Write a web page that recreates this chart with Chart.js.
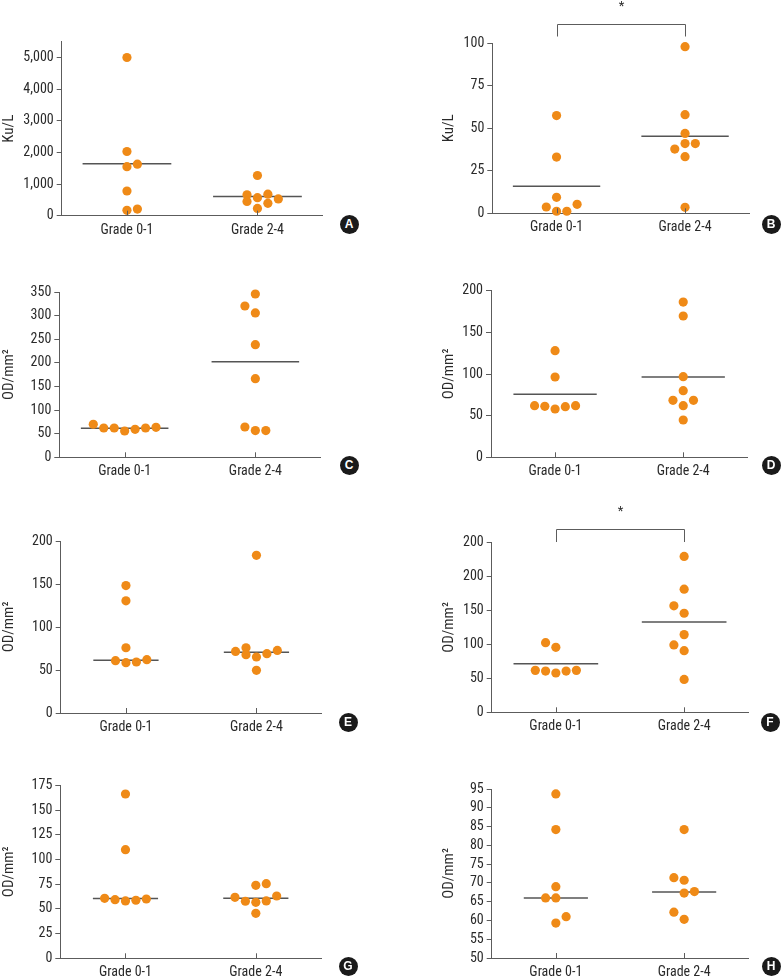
<!DOCTYPE html>
<html lang="en">
<head>
<meta charset="UTF-8">
<title>Grade 0-1 vs Grade 2-4</title>
<script src="https://cdn.jsdelivr.net/npm/chart.js"></script>
<style>
  body { margin: 0; background: #fff; }
  #fig { position: relative; width: 781px; height: 979px; overflow: hidden; }
  #fig canvas { position: absolute; }
  .tag { position: absolute; width: 19px; height: 19px; margin: -9.5px 0 0 -9.5px; border-radius: 50%;
         background: #1a1a1a; color: #fff; font: bold 12px Arial, sans-serif; line-height: 19px; text-align: center; }
</style>
</head>
<body>
<div id="fig"></div>
<script>
// categories
const groups = ['Grade 0-1', 'Grade 2-4'];

// A - Ku/L
const aLow = [5000, 2030, 1550, 1630, 780, 170, 210];
const aLowSlot = [0, 0, 0, 1, 0, 0, 1];
const aHigh = [1270, 660, 680, 570, 450, 530, 390, 230];
const aHighSlot = [0, -1, 1, 0, -1, 2, 1, 0];
const aMid = [1640, 610];
const aTicks = [0, 1000, 2000, 3000, 4000, 5000];
const aTickLabels = ['0', '1,000', '2,000', '3,000', '4,000', '5,000'];

// B - Ku/L
const bLow = [57.5, 33.1, 9.4, 3.7, 5.3, 1.2, 1.2];
const bLowSlot = [0, 0, 0, -1, 2, 0, 1];
const bHigh = [98, 58, 47, 41, 41, 37.8, 33.3, 3.5];
const bHighSlot = [0, 0, 0, 0, 1, -1, 0, 0];
const bMid = [15.9, 45.3];
const bTicks = [0, 25, 50, 75, 100];
const bTickLabels = ['0', '25', '50', '75', '100'];

// C - OD/mm2
const cLow = [70, 62, 62, 55.7, 59.3, 62, 63.5];
const cLowSlot = [-3, -2, -1, 0, 1, 2, 3];
const cHigh = [345.8, 320.4, 305.6, 238.5, 166.5, 64.2, 56.5, 56.5];
const cHighSlot = [0, -1, 0, 0, 0, -1, 0, 1];
const cMid = [61.4, 202.5];
const cTicks = [0, 50, 100, 150, 200, 250, 300, 350];
const cTickLabels = ['0', '50', '100', '150', '200', '250', '300', '350'];

// D - OD/mm2
const dLow = [128, 96.4, 62, 61.2, 58, 60.8, 62];
const dLowSlot = [0, 0, -2, -1, 0, 1, 2];
const dHigh = [186.4, 169.6, 96.8, 80, 68.4, 68.4, 62, 44.8];
const dHighSlot = [0, 0, 0, 0, -1, 1, 0, 0];
const dMid = [75.6, 96.4];
const dTicks = [0, 50, 100, 150, 200];
const dTickLabels = ['0', '50', '100', '150', '200'];

// E - OD/mm2
const eLow = [148.2, 130.4, 75.9, 60.8, 58.5, 59.3, 62];
const eLowSlot = [0, 0, 0, -1, 0, 1, 2];
const eHigh = [183.4, 75.9, 71.6, 72.8, 67.8, 69, 65.1, 49.6];
const eHighSlot = [0, -1, -2, 2, -1, 1, 0, 0];
const eMid = [61.2, 70.5];
const eTicks = [0, 50, 100, 150, 200];
const eTickLabels = ['0', '50', '100', '150', '200'];

// F - OD/mm2 (top label printed as "200" in the source)
const fLow = [102.7, 95.8, 61.8, 60.8, 57.9, 60.8, 61.8];
const fLowSlot = [-1, 0, -2, -1, 0, 1, 2];
const fHigh = [229.8, 181.5, 156.9, 146, 114.5, 99.3, 90.9, 48.5];
const fHighSlot = [0, 0, -1, 0, 0, -1, 0, 0];
const fMid = [71.7, 133.2];
const fTicks = [0, 50, 100, 150, 200, 250];
const fTickLabels = ['0', '50', '100', '150', '200', '200'];

// G - OD/mm2
const gLow = [166.2, 109.9, 60.7, 59.3, 58, 58.7, 60];
const gLowSlot = [0, 0, -2, -1, 0, 1, 2];
const gHigh = [73.8, 75.5, 61.7, 63, 57.7, 56.6, 58, 45.5];
const gHighSlot = [0, 1, -2, 2, -1, 0, 1, 0];
const gMid = [60.4, 60.7];
const gTicks = [0, 25, 50, 75, 100, 125, 150, 175];
const gTickLabels = ['0', '25', '50', '75', '100', '125', '150', '175'];

// H - OD/mm2
const hLow = [93.7, 84.2, 69, 66, 66, 61, 59.3];
const hLowSlot = [0, 0, 0, -1, 0, 1, 0];
const hHigh = [84.2, 71.4, 70.7, 67.3, 67.7, 62.2, 60.3];
const hHighSlot = [0, -1, 0, 0, 1, -1, 0];
const hMid = [66, 67.6];
const hTicks = [50, 55, 60, 65, 70, 75, 80, 85, 90, 95];
const hTickLabels = ['50', '55', '60', '65', '70', '75', '80', '85', '90', '95'];

// look
const DOT = '#ef8a17';
const AXIS = '#5c5c5c';
const TXT = '#2a2a2a';
const FONT = "'Liberation Sans Narrow', 'Roboto Condensed', 'Arial Narrow', Roboto, sans-serif";
const SLOT = 0.08;

// where each panel sits (L/R/T/B = plot area edges)
const panels = [
  { tag: 'A', unit: 'Ku/L', low: aLow, lowSlot: aLowSlot, high: aHigh, highSlot: aHighSlot, mid: aMid, ticks: aTicks, labels: aTickLabels,
    min: 0, max: 5500, half: 0.34, left: 0, top: 0, w: 340, h: 243, L: 61.7, R: 322.7, T: 41.7, B: 215.7, tagX: 349, tagY: 224 },
  { tag: 'B', unit: 'Ku/L', low: bLow, lowSlot: bLowSlot, high: bHigh, highSlot: bHighSlot, mid: bMid, ticks: bTicks, labels: bTickLabels,
    min: 0, max: 100, half: 0.34, left: 440, top: 0, w: 341, h: 243, L: 492.3, R: 749.3, T: 43.3, B: 213.3, tagX: 771, tagY: 224,
    bracket: { top: 111.5, leg: 104 } },
  { tag: 'C', unit: 'OD/mm²', low: cLow, lowSlot: cLowSlot, high: cHigh, highSlot: cHighSlot, mid: cMid, ticks: cTicks, labels: cTickLabels,
    min: 0, max: 350, half: 0.335, left: 0, top: 245, w: 340, h: 243, L: 59.3, R: 320.7, T: 292, B: 457.3, tagX: 349, tagY: 465 },
  { tag: 'D', unit: 'OD/mm²', low: dLow, lowSlot: dLowSlot, high: dHigh, highSlot: dHighSlot, mid: dMid, ticks: dTicks, labels: dTickLabels,
    min: 0, max: 200, half: 0.325, left: 440, top: 245, w: 341, h: 243, L: 491, R: 747.3, T: 290.7, B: 457.3, tagX: 771, tagY: 465 },
  { tag: 'E', unit: 'OD/mm²', low: eLow, lowSlot: eLowSlot, high: eHigh, highSlot: eHighSlot, mid: eMid, ticks: eTicks, labels: eTickLabels,
    min: 0, max: 200, half: 0.25, left: 0, top: 488, w: 340, h: 252, L: 60.7, R: 321.7, T: 541, B: 713, tagX: 348, tagY: 722 },
  { tag: 'F', unit: 'OD/mm²', low: fLow, lowSlot: fLowSlot, high: fHigh, highSlot: fHighSlot, mid: fMid, ticks: fTicks, labels: fTickLabels,
    min: 0, max: 250, half: 0.33, left: 440, top: 488, w: 341, h: 252, L: 491.7, R: 748.3, T: 542.7, B: 712.3, tagX: 770, tagY: 722,
    bracket: { top: 270, leg: 251 } },
  { tag: 'G', unit: 'OD/mm²', low: gLow, lowSlot: gLowSlot, high: gHigh, highSlot: gHighSlot, mid: gMid, ticks: gTicks, labels: gTickLabels,
    min: 0, max: 175, half: 0.25, left: 0, top: 742, w: 340, h: 237, L: 60.3, R: 321, T: 785.3, B: 958.3, tagX: 348, tagY: 966 },
  { tag: 'H', unit: 'OD/mm²', low: hLow, lowSlot: hLowSlot, high: hHigh, highSlot: hHighSlot, mid: hMid, ticks: hTicks, labels: hTickLabels,
    min: 50, max: 95, half: 0.25, left: 440, top: 742, w: 341, h: 237, L: 491.7, R: 748.3, T: 789, B: 958, tagX: 771, tagY: 966 }
];

// small ticks pointing up from the x axis
const innerTicks = {
  id: 'innerTicks',
  afterDraw(chart) {
    const x = chart.scales.x, ctx = chart.ctx, b = chart.chartArea.bottom;
    ctx.save();
    ctx.strokeStyle = AXIS; ctx.lineWidth = 1;
    x.ticks.forEach(t => {
      const px = Math.round(x.getPixelForValue(t.value)) + 0.5;
      ctx.beginPath(); ctx.moveTo(px, b); ctx.lineTo(px, b - 5); ctx.stroke();
    });
    ctx.restore();
  }
};

// significance bracket with star
const bracket = {
  id: 'bracket',
  afterDraw(chart, args, opts) {
    if (!opts.top) return;
    const x = chart.scales.x, y = chart.scales.y, ctx = chart.ctx;
    const x1 = Math.round(x.getPixelForValue(1)) + 0.5, x2 = Math.round(x.getPixelForValue(2)) + 0.5;
    const yt = Math.round(y.getPixelForValue(opts.top)) + 0.5, yl = y.getPixelForValue(opts.leg);
    ctx.save();
    ctx.strokeStyle = AXIS; ctx.lineWidth = 1;
    ctx.beginPath(); ctx.moveTo(x1, yl); ctx.lineTo(x1, yt); ctx.lineTo(x2, yt); ctx.lineTo(x2, yl); ctx.stroke();
    ctx.fillStyle = TXT; ctx.font = '13px ' + FONT; ctx.textAlign = 'center'; ctx.textBaseline = 'alphabetic';
    ctx.fillText('*', (x1 + x2) / 2, yt - 15);
    ctx.restore();
  }
};

const fig = document.getElementById('fig');

panels.forEach(p => {
  const cv = document.createElement('canvas');
  cv.width = p.w; cv.height = p.h;
  cv.style.left = p.left + 'px'; cv.style.top = p.top + 'px';
  cv.style.width = p.w + 'px'; cv.style.height = p.h + 'px';
  fig.appendChild(cv);

  const tag = document.createElement('div');
  tag.className = 'tag'; tag.textContent = p.tag;
  tag.style.left = p.tagX + 'px'; tag.style.top = p.tagY + 'px';
  fig.appendChild(tag);

  const dots = p.low.map((v, i) => ({ x: 1 + p.lowSlot[i] * SLOT, y: v }))
    .concat(p.high.map((v, i) => ({ x: 2 + p.highSlot[i] * SLOT, y: v })));

  const datasets = [
    { type: 'scatter', data: dots, pointRadius: 4.6, pointBackgroundColor: DOT, pointBorderWidth: 0, clip: false }
  ];
  p.mid.forEach((m, g) => {
    datasets.push({
      type: 'line', data: [{ x: g + 1 - p.half, y: m }, { x: g + 1 + p.half, y: m }],
      borderColor: '#555', borderWidth: 1.5, pointRadius: 0, fill: false, clip: false
    });
  });

  new Chart(cv, {
    type: 'scatter',
    data: { datasets },
    options: {
      responsive: false,
      animation: false,
      layout: { padding: { top: p.T - p.top, right: p.left + p.w - p.R, left: 0, bottom: 0 } },
      plugins: { legend: { display: false }, tooltip: { enabled: false }, bracket: p.bracket || {} },
      scales: {
        x: {
          type: 'linear', min: 0.5, max: 2.5,
          afterBuildTicks: s => { s.ticks = [{ value: 1 }, { value: 2 }]; },
          afterFit: s => { s.height = p.top + p.h - p.B; },
          grid: { display: true, drawOnChartArea: false, drawTicks: false },
          border: { display: true, color: AXIS, width: 1 },
          ticks: { padding: 6, color: TXT, font: { family: FONT, size: 14 }, maxRotation: 0, autoSkip: false,
                   callback: v => groups[v - 1] }
        },
        y: {
          type: 'linear', min: p.min, max: p.max,
          afterBuildTicks: s => { s.ticks = p.ticks.map(v => ({ value: v })); },
          afterFit: s => { s.width = p.L - p.left; },
          grid: { drawOnChartArea: false, tickLength: 5, color: AXIS },
          border: { display: true, color: AXIS, width: 1 },
          ticks: { padding: 3, color: TXT, font: { family: FONT, size: 14 }, autoSkip: false,
                   callback: (v, i) => p.labels[i] },
          title: { display: true, text: p.unit, color: TXT, padding: { top: 0, bottom: 0 },
                   font: { family: FONT, size: 15 } }
        }
      }
    },
    plugins: [innerTicks, bracket]
  });
});
</script>
</body>
</html>
